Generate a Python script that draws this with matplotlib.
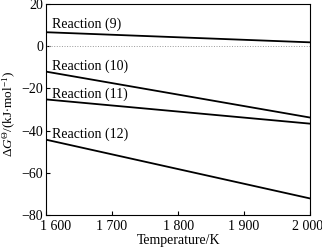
import numpy as np
import matplotlib
matplotlib.use("Agg")
import matplotlib.pyplot as plt
from matplotlib.transforms import ScaledTranslation

plt.rcParams['font.family'] = ['Liberation Serif', 'DejaVu Serif']
plt.rcParams['mathtext.fontset'] = 'custom'
plt.rcParams['mathtext.rm'] = 'Liberation Serif'
plt.rcParams['mathtext.it'] = 'Liberation Serif:italic'

T = [1600, 2000]
r9 = [6.7, 1.9]
r10 = [-12.0, -33.8]
r11 = [-25.2, -36.7]
r12 = [-44.3, -72.2]
labels = ["Reaction (9)", "Reaction (10)", "Reaction (11)", "Reaction (12)"]
label_y = [8.6, -11.0, -24.3, -43.6]

fig = plt.figure(figsize=(3.22, 2.47), dpi=100)
ax = fig.add_axes([0.143, 0.13, 0.82, 0.853])

for s in [r9, r10, r11, r12]:
    ax.plot(T, s, color='black', lw=1.3)
ax.axhline(0, color='#999999', lw=0.7, ls=':')

for lab, y in zip(labels, label_y):
    ax.text(1609, y, lab, fontsize=10, va='baseline', ha='left')

ax.set_xlim(1600, 2000)
ax.set_ylim(-80, 20)
ax.set_xticks([1600, 1700, 1800, 1900, 2000])
ax.set_xticklabels(["1 600", "1 700", "1 800", "1 900", "2 000"])
ax.set_yticks([20, 0, -20, -40, -60, -80])
ax.set_yticklabels(["20", "0", "\u221220", "\u221240", "\u221260", "\u221280"])
ax.tick_params(direction='in', length=3, labelsize=10, width=0.8)
ax.tick_params(axis='y', pad=2)
for sp in ax.spines.values():
    sp.set_linewidth(0.8)

# shift first and last x tick labels like the reference
xl = ax.get_xticklabels()
xl[0].set_transform(xl[0].get_transform() + ScaledTranslation(10/100, 0, fig.dpi_scale_trans))
xl[-1].set_transform(xl[-1].get_transform() + ScaledTranslation(-3/100, 0, fig.dpi_scale_trans))

ax.set_xlabel("Temperature/K", fontsize=10, labelpad=1)
ax.set_ylabel(r"$\Delta G^{\Theta}$/(kJ$\cdot$mol$^{-1}$)", fontsize=9.5)
ax.yaxis.set_label_coords(-0.105, 0.48)

fig.savefig("out.png", dpi=100)
